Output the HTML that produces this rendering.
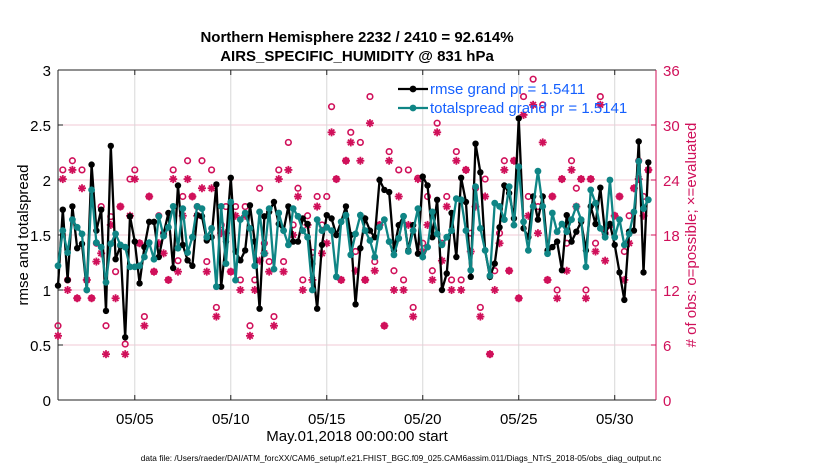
<!DOCTYPE html>
<html><head><meta charset="utf-8"><style>
body{margin:0;background:#fff;}
svg{display:block;font-family:"Liberation Sans",Arial,sans-serif;}
</style></head><body>
<svg id="chart" width="830" height="470">
<text x="357" y="42" text-anchor="middle" font-size="15" font-weight="bold">Northern Hemisphere 2232 / 2410 = 92.614%</text>
<text x="357" y="61" text-anchor="middle" font-size="15" font-weight="bold">AIRS_SPECIFIC_HUMIDITY @ 831 hPa</text>
<text transform="translate(28,235) rotate(-90)" text-anchor="middle" font-size="15">rmse and totalspread</text>
<text transform="translate(696,235) rotate(-90)" text-anchor="middle" font-size="15" fill="#d0105a"># of obs: o=possible; ×=evaluated</text>
<text x="357" y="441" text-anchor="middle" font-size="15">May.01,2018 00:00:00 start</text>
<text x="401" y="461" text-anchor="middle" font-size="8.3">data file: /Users/raeder/DAI/ATM_forcXX/CAM6_setup/f.e21.FHIST_BGC.f09_025.CAM6assim.011/Diags_NTrS_2018-05/obs_diag_output.nc</text>
<g id="grid"></g><g id="axes"></g><g id="marks"></g><g id="legend"></g>
</svg>
<script>
const rmse=[1.04,1.73,1.09,1.76,1.38,1.42,1.00,2.14,1.54,1.73,0.81,2.31,1.28,1.40,0.57,1.67,1.44,1.06,1.39,1.62,1.62,1.30,1.51,1.70,1.20,1.95,1.41,1.27,1.22,1.68,1.67,1.45,1.48,1.96,1.03,1.44,2.02,1.35,1.27,1.36,1.77,1.44,0.83,1.67,1.71,1.80,1.60,1.54,1.76,1.44,1.44,1.65,1.60,1.24,0.83,1.41,1.68,
1.65,1.50,1.62,1.76,1.50,0.87,1.38,1.65,1.54,1.48,2.00,1.91,1.89,1.36,1.59,1.67,1.36,1.59,1.33,2.03,1.95,1.48,1.82,1.00,1.15,1.70,1.30,2.02,1.80,1.12,2.33,2.07,1.36,1.12,1.24,1.57,1.95,1.88,1.65,2.56,1.56,1.48,1.85,1.64,1.85,1.36,1.39,1.44,1.18,1.68,1.44,1.53,1.62,1.36,1.76,1.60,1.93,1.51,1.60,1.41,1.16,0.91,1.53,1.54,2.35,1.16,2.16];
const spread=[1.22,1.54,1.34,1.64,1.57,1.51,1.00,1.91,1.43,1.39,1.07,1.42,1.51,1.41,1.39,1.21,1.21,1.22,1.30,1.43,1.28,1.67,1.49,1.57,1.76,1.38,1.74,1.34,1.48,1.76,1.74,1.48,1.56,1.03,1.76,1.24,1.80,1.09,1.64,1.70,1.56,1.22,1.71,1.33,1.74,1.19,1.70,1.54,1.41,1.74,1.67,1.54,1.48,1.00,1.64,1.54,1.57,
1.54,1.12,1.62,1.68,1.32,1.51,1.68,1.54,1.45,1.30,1.57,1.64,1.44,1.32,1.47,1.67,1.35,1.54,1.74,1.30,1.39,1.71,1.51,1.41,1.48,1.54,1.83,1.82,1.54,1.18,1.94,1.56,1.36,1.13,1.79,1.76,1.64,1.94,1.59,2.12,1.62,1.36,1.76,2.08,1.76,1.33,1.70,1.53,1.60,1.53,1.64,1.76,1.64,1.21,1.91,1.79,1.56,1.48,2.00,1.48,1.64,1.41,1.51,1.71,2.17,1.74,1.82];
const possible=[8.1,25.1,13.1,26.1,11.1,25.1,13.1,11.1,17.1,21.1,8.1,20.0,14.0,21.1,6.1,24.1,25.1,17.1,9.1,22.2,14.0,20.1,18.2,13.1,25.1,15.2,22.2,26.1,22.2,21.1,26.1,15.1,25.1,10.1,19.1,21.1,14.0,21.1,13.1,21.1,8.1,13.1,23.1,17.1,15.1,9.1,25.1,15.1,28.1,19.1,23.1,13.1,20.1,16.1,22.2,19.1,22.2,
32,24.1,13.1,26.1,29.2,16.2,28.1,13.1,33.1,15.1,19.1,8.1,27.1,14.1,25.1,13.1,25.1,10.1,24.2,17.1,22.2,14.1,30.2,17.1,22.2,13.1,27.1,13.1,25.1,18.2,23.1,10.1,24.1,5.0,14.1,18.2,26.1,14.1,26.1,11.1,33.1,22.2,35,21.1,32.2,13.1,22.2,12.0,24.1,17.1,26.1,23.1,24.1,12.0,24.1,17.1,33.1,18.2,19.1,20.1,22.2,16.2,20.1,23.1,26.1,22.2,25.1];
const evaluated=[7.0,24.1,12.0,25.1,11.1,23.1,13.1,11.1,15.1,16.0,5.0,19.1,11.1,21.1,5.0,20.1,24.1,17.1,8.1,22.2,14.0,17.1,16.0,13.1,24.1,14.0,20.1,24.1,22.2,20.1,23.1,14.0,23.1,9.1,18.2,18.2,14.0,20.1,12.0,20.1,7.0,12.0,15.2,16.0,14.0,8.1,24.1,14.0,25.1,18.0,22.2,12.0,19.1,13.1,21.1,16.0,17.1,
29.2,24.1,13.1,26.1,28.1,14.1,26.1,13.1,30.2,14.1,19.1,8.1,26.1,12.0,22.2,12.0,19.1,9.1,24.1,16.2,19.1,13.1,29.2,15.2,21.1,12.0,26.1,12.0,25.1,16.2,21.1,9.1,22.2,5.0,12.0,17.1,25.1,14.1,26.1,11.1,31.1,20.1,32.2,18.2,28.1,13.1,22.2,11.1,24.1,14.1,25.1,21.1,24.1,11.1,24.1,16.2,32.2,15.2,19.1,20.1,22.2,13.1,17.1,23.1,24.1,20.1,25.1];
const leftTicks=[0,0.5,1,1.5,2,2.5,3];
const leftTickLabels=["0","0.5","1","1.5","2","2.5","3"];
const rightTicks=[0,6,12,18,24,30,36];
const dateTicks=[5,10,15,20,25,30];
const dateLabels=["05/05","05/10","05/15","05/20","05/25","05/30"];

const L=58,R=656,T=70,B=400,PINK="#d0105a",TEAL="#0f8585";
const xDay=d=>L+(d-1)*(R-L)/31.15;
const xIdx=i=>xDay(1+i/4);
const yL=v=>B-v*(B-T)/3;
const yR=v=>B-v*(B-T)/36;
const NS="http://www.w3.org/2000/svg";
function mk(tag,attrs,parent){const e=document.createElementNS(NS,tag);for(const k in attrs)e.setAttribute(k,attrs[k]);parent.appendChild(e);return e;}
const grid=document.getElementById('grid'),axes=document.getElementById('axes'),marks=document.getElementById('marks'),leg=document.getElementById('legend');

leftTicks.forEach((v,i)=>{
  if(v>0&&v<3){const g=mk('line',{x1:L,x2:R,y1:yL(v),y2:yL(v),stroke:'#f2c8d6','stroke-width':1},grid);
  
  }
  const t=mk('text',{x:L-7,y:yL(v)+6,'text-anchor':'end','font-size':15},axes);t.textContent=leftTickLabels[i];
  
  
  mk('line',{x1:L,x2:L+5,y1:yL(v),y2:yL(v),stroke:'#222'},axes);
});
rightTicks.forEach(v=>{
  const t=mk('text',{x:R+7,y:yR(v)+6,'font-size':15,fill:PINK},axes);t.textContent=String(v);
  
  
  mk('line',{x1:R-5,x2:R,y1:yR(v),y2:yR(v),stroke:PINK},axes);
});
dateTicks.forEach((d,i)=>{
  const g=mk('line',{x1:xDay(d),x2:xDay(d),y1:T,y2:B,stroke:'#d8d8d8'},grid);
  
  
  mk('line',{x1:xDay(d),x2:xDay(d),y1:B-5,y2:B,stroke:'#222'},axes);
  mk('line',{x1:xDay(d),x2:xDay(d),y1:T,y2:T+5,stroke:'#222'},axes);
  const t=mk('text',{x:xDay(d),y:B+24,'text-anchor':'middle','font-size':15},axes);t.textContent=dateLabels[i];
  
  
});
mk('line',{x1:L,x2:R,y1:T,y2:T,stroke:'#222'},axes);
mk('line',{x1:L,x2:R,y1:B,y2:B,stroke:'#222'},axes);
mk('line',{x1:L,x2:L,y1:T,y2:B,stroke:'#222'},axes);
const ra=mk('line',{x1:R,x2:R,y1:T,y2:B,stroke:PINK},axes);



function star(cx,cy,parent){
  const g=mk('g',{stroke:PINK,'stroke-width':1.8},parent);
  
  
  const r=4;
  [[r,0],[0,r],[r*0.7,r*0.7],[r*0.7,-r*0.7]].forEach(([dx,dy])=>mk('line',{x1:cx-dx,y1:cy-dy,x2:cx+dx,y2:cy+dy},g));
}
possible.forEach((v,i)=>{
  const c=mk('circle',{cx:xIdx(i),cy:yR(v),r:2.8,fill:'none',stroke:PINK,'stroke-width':1.6},marks);
  
  
});
evaluated.forEach((v,i)=>star(xIdx(i),yR(v),marks));

function series(arr,color,name,r){
  const p=mk('polyline',{points:arr.map((v,i)=>xIdx(i)+','+yL(v)).join(' '),fill:'none',stroke:color,'stroke-width':2.3},marks);
  
  
  arr.forEach((v,i)=>{const c=mk('circle',{cx:xIdx(i),cy:yL(v),r:r,fill:color},marks);
    
    });
}
series(rmse,'#000','rmse',3.2);
series(spread,TEAL,'totalspread',3.4);

[['#000','rmse grand pr = 1.5411',89,'legend-entry-rmse'],[TEAL,'totalspread grand pr = 1.5141',108,'legend-entry-totalspread']].forEach(([c,txt,y,n])=>{
  const g=mk('g',{},leg);
  
  
  mk('line',{x1:398,x2:428,y1:y,y2:y,stroke:c,'stroke-width':2.3},g);
  mk('circle',{cx:413,cy:y,r:3.4,fill:c},g);
  const t=mk('text',{x:430,y:y+5,'font-size':15,fill:'#1560ff'},g);t.textContent=txt;
});
</script>
</body></html>
